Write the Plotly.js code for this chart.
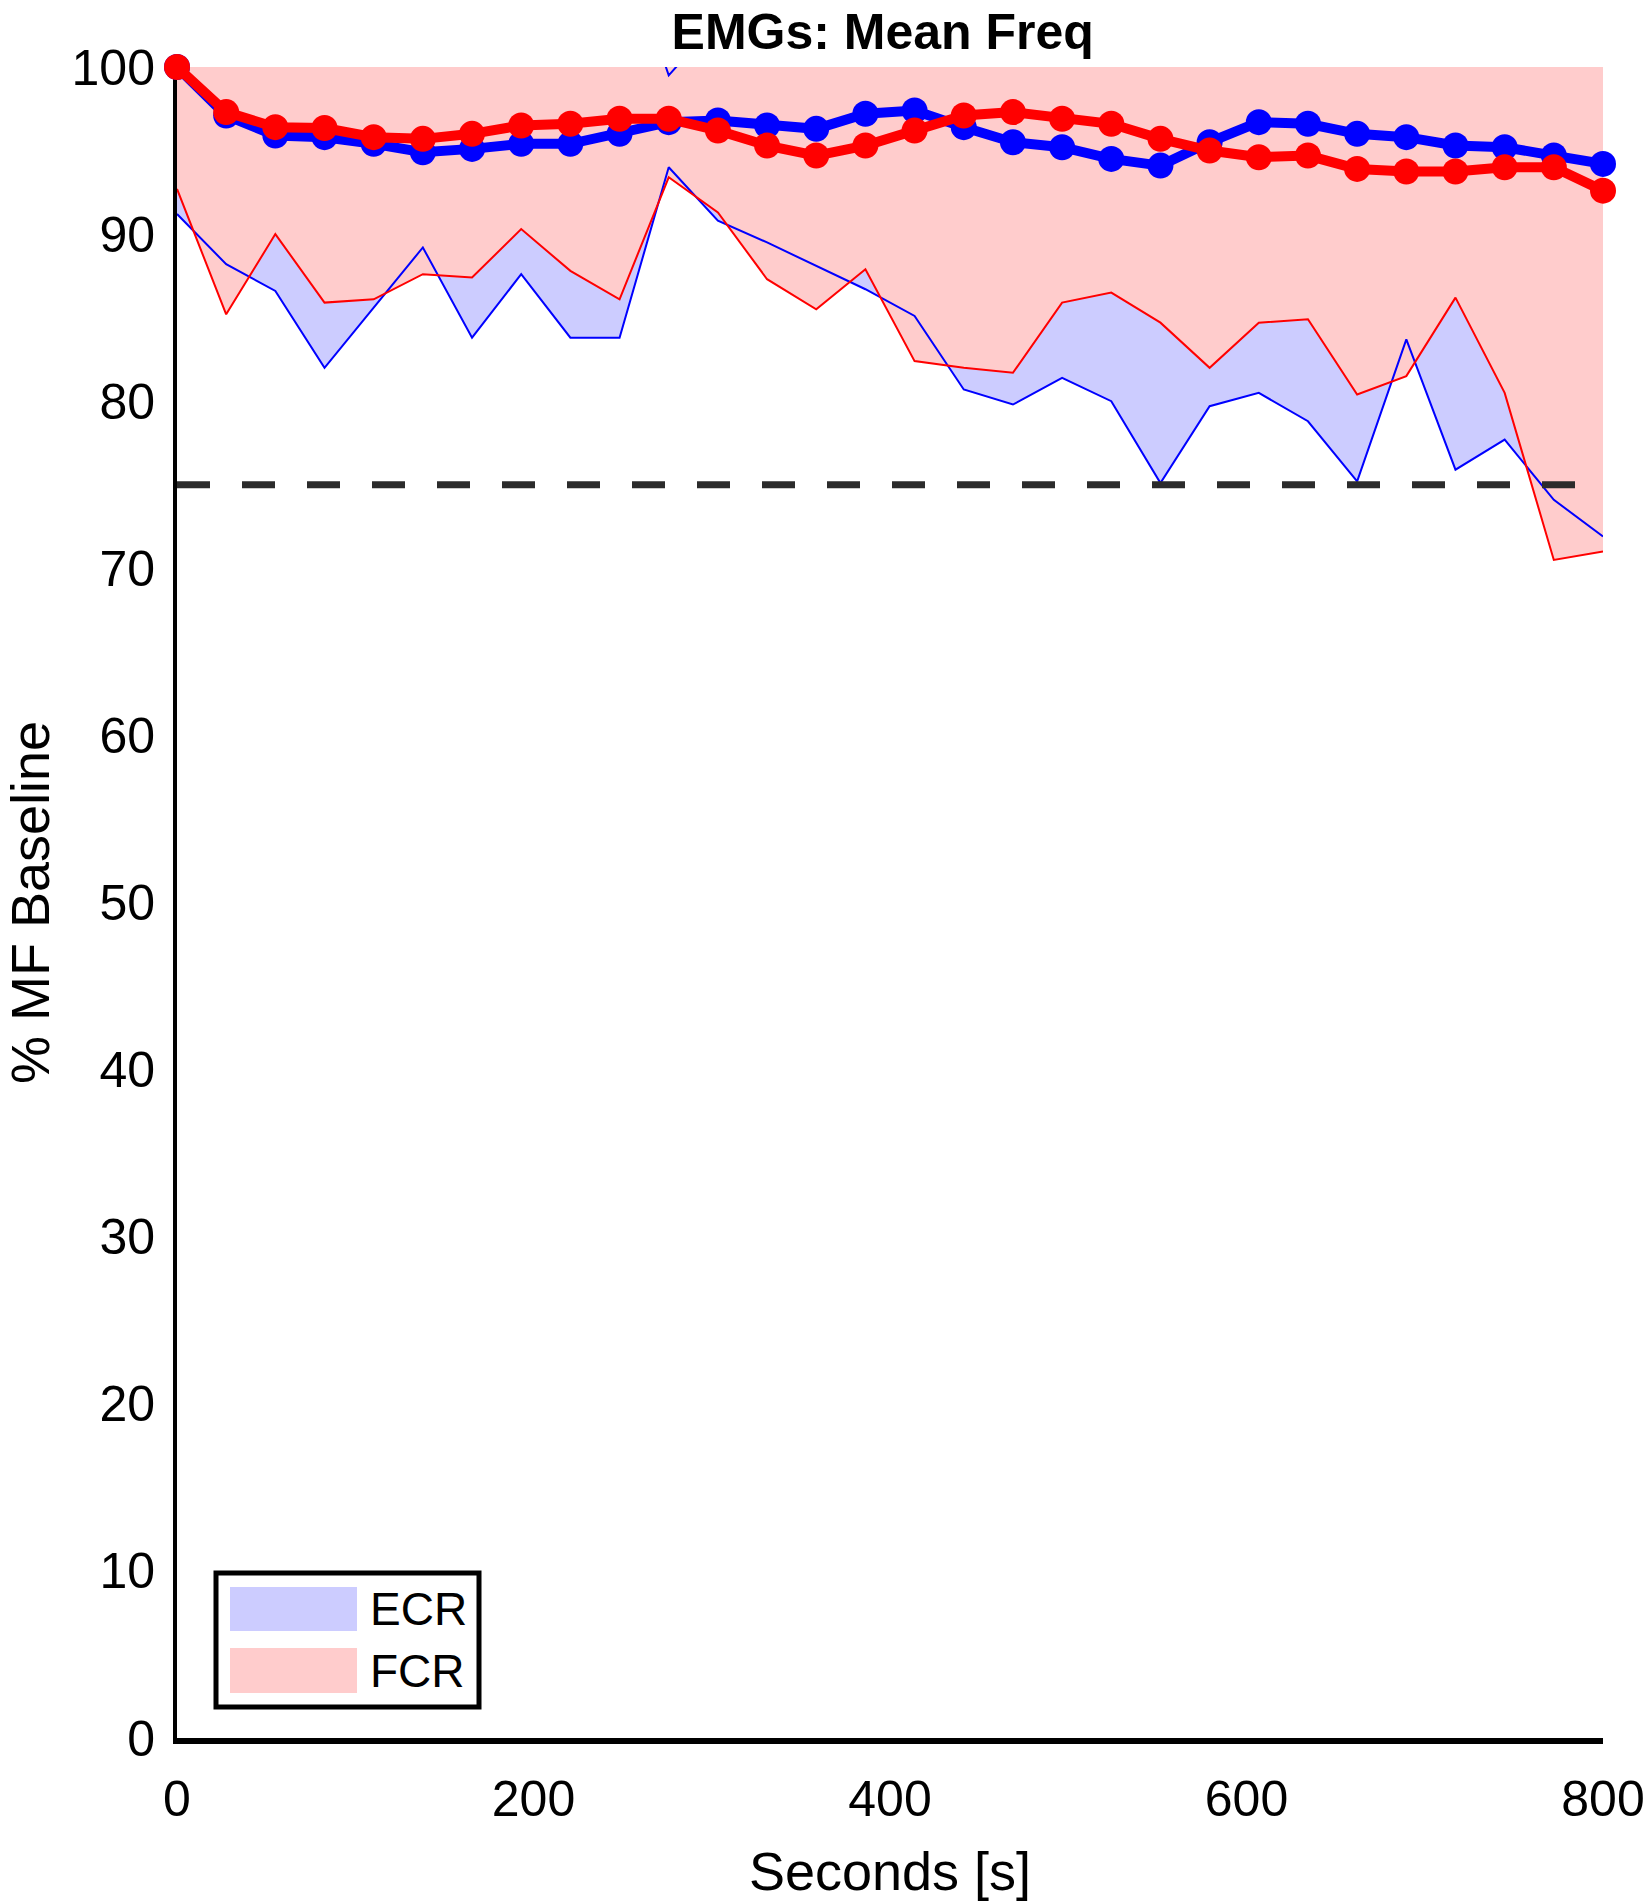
<!DOCTYPE html>
<html>
<head>
<meta charset="utf-8">
<script src="https://cdn.plot.ly/plotly-3.0.1.min.js"></script>
<style>
  html, body { margin: 0; padding: 0; background: #ffffff; }
  #chart { width: 1650px; height: 1904px; }
</style>
</head>
<body>
<div id="chart"></div>
<script>
// time of each sample, seconds
const seconds = [
  0, 27.59, 55.17, 82.76, 110.34, 137.93, 165.52, 193.1, 220.69, 248.28,
  275.86, 303.45, 331.03, 358.62, 386.21, 413.79, 441.38, 468.97, 496.55, 524.14,
  551.72, 579.31, 606.9, 634.48, 662.07, 689.66, 717.24, 744.83, 772.41, 800,
];

// ECR (blue): mean and band edges, % of baseline mean frequency
const ecrMean = [
  100, 97.1, 95.9, 95.8, 95.4, 94.9, 95.1, 95.4, 95.4, 96.0,
  96.7, 96.8, 96.5, 96.3, 97.2, 97.4, 96.4, 95.5, 95.2, 94.5,
  94.1, 95.5, 96.7, 96.6, 96.0, 95.8, 95.3, 95.2, 94.7, 94.2,
];
const ecrLower = [
  91.2, 88.2, 86.6, 82.0, 85.6, 89.2, 83.8, 87.6, 83.8, 83.8,
  94.0, 90.8, 89.5, 88.1, 86.7, 85.1, 80.7, 79.8, 81.4, 80.0,
  75.1, 79.7, 80.5, 78.8, 75.2, 83.7, 75.9, 77.7, 74.1, 71.9,
];
const ecrUpper = [
  108.8, 106.0, 105.2, 109.6, 105.2, 100.6, 106.4, 103.2, 107.0, 108.2,
  99.5, 102.8, 103.5, 104.5, 107.7, 109.7, 112.1, 111.2, 109.0, 109.0,
  113.1, 111.3, 112.9, 114.4, 116.8, 107.9, 114.7, 112.7, 115.3, 116.5,
];

// FCR (red)
const fcrMean = [
  100, 97.3, 96.4, 96.35, 95.8, 95.7, 96.0, 96.5, 96.6, 96.9,
  96.9, 96.2, 95.3, 94.7, 95.3, 96.2, 97.1, 97.3, 96.9, 96.6,
  95.7, 95.0, 94.6, 94.7, 93.9, 93.75, 93.75, 94.0, 94.0, 92.6,
];
const fcrLower = [
  92.7, 85.2, 90.0, 85.9, 86.1, 87.6, 87.4, 90.3, 87.8, 86.1,
  93.4, 91.3, 87.3, 85.5, 87.9, 82.4, 82.0, 81.7, 85.9, 86.5,
  84.7, 82.0, 84.7, 84.9, 80.4, 81.5, 86.2, 80.5, 70.5, 71.0,
];
const fcrUpper = [
  107.3, 109.4, 102.8, 106.8, 105.5, 103.8, 104.6, 102.7, 105.4, 107.7,
  100.4, 101.1, 103.3, 103.9, 102.7, 110.0, 112.2, 112.9, 107.9, 106.7,
  106.7, 108.0, 104.5, 104.5, 107.4, 106.0, 101.3, 107.5, 117.5, 114.2,
];

// fatigue threshold
const thresholdX = [0, 800];
const thresholdY = [75, 75];

const legendNames = ["ECR", "FCR"];
const xTicks = [0, 200, 400, 600, 800];
const yTicks = [0, 10, 20, 30, 40, 50, 60, 70, 80, 90, 100];

const BLUE = "#0000ff";
const RED = "#ff0000";
const BLUE_FILL = "rgb(204, 204, 255)";
const RED_FILL = "rgb(255, 204, 204)";
const FONT = "Arial, 'Liberation Sans', Helvetica, sans-serif";

// plot box in page pixels
const W = 1650, H = 1904;
const M = { l: 177, r: 47, t: 67, b: 166 };
const plotW = W - M.l - M.r;
const plotH = H - M.t - M.b;
const px = (x) => (x - M.l) / plotW;
const py = (y) => (H - M.b - y) / plotH;

function band(lower, upper, color) {
  return {
    type: "scatter",
    mode: "lines",
    x: [...seconds, ...seconds.slice().reverse()],
    y: [...upper, ...lower.slice().reverse()],
    fill: "toself",
    fillcolor: color,
    line: { width: 0 },
    hoverinfo: "skip",
    showlegend: false,
  };
}

function edge(values, color) {
  return {
    type: "scatter",
    mode: "lines",
    x: seconds,
    y: values,
    line: { color, width: 2 },
    hoverinfo: "skip",
    showlegend: false,
  };
}

function meanLine(values, color) {
  return {
    type: "scatter",
    mode: "lines+markers",
    x: seconds,
    y: values,
    line: { color, width: 10 },
    marker: { color, size: 26 },
    cliponaxis: false,
    showlegend: false,
  };
}

function legendBox() {
  const shapes = [
    {
      type: "rect", xref: "paper", yref: "paper",
      x0: px(216), x1: px(479), y0: py(1707), y1: py(1573),
      line: { color: "#000000", width: 5 }, fillcolor: "#ffffff",
    },
  ];
  const annotations = [];
  const rows = [
    { name: legendNames[0], fill: BLUE_FILL, top: 1587, bottom: 1631 },
    { name: legendNames[1], fill: RED_FILL, top: 1648, bottom: 1693 },
  ];
  for (const row of rows) {
    shapes.push({
      type: "rect", xref: "paper", yref: "paper",
      x0: px(230), x1: px(357), y0: py(row.bottom), y1: py(row.top),
      line: { width: 0 }, fillcolor: row.fill,
    });
    annotations.push({
      xref: "paper", yref: "paper",
      x: px(368), y: py((row.top + row.bottom) / 2),
      xanchor: "left", yanchor: "middle",
      text: row.name, showarrow: false,
      font: { family: FONT, size: 46, color: "#000000" },
    });
  }
  return { shapes, annotations };
}

const legend = legendBox();

Plotly.newPlot(
  "chart",
  [
    band(ecrLower, ecrUpper, BLUE_FILL),
    band(fcrLower, fcrUpper, RED_FILL),
    edge(ecrLower, BLUE),
    edge(ecrUpper, BLUE),
    edge(fcrLower, RED),
    edge(fcrUpper, RED),
    {
      type: "scatter",
      mode: "lines",
      x: thresholdX,
      y: thresholdY,
      line: { color: "#2b2b2b", width: 7, dash: "33px,32px" },
      showlegend: false,
    },
    meanLine(ecrMean, BLUE),
    meanLine(fcrMean, RED),
  ],
  {
    width: W,
    height: H,
    margin: M,
    paper_bgcolor: "#ffffff",
    plot_bgcolor: "#ffffff",
    font: { family: FONT, color: "#000000" },
    showlegend: false,
    title: {
      text: "EMGs: Mean Freq",
      font: { family: FONT, size: 50, weight: "bold", color: "#000000" },
      x: 0.535, xanchor: "center",
      y: 1 - 31 / H, yanchor: "middle",
    },
    xaxis: {
      range: [0, 800],
      tickvals: xTicks,
      ticks: "",
      ticklabelstandoff: 12,
      tickfont: { family: FONT, size: 50 },
      showgrid: false,
      zeroline: false,
      showline: true,
      linecolor: "#000000",
      linewidth: 6,
      fixedrange: true,
      title: { text: "Seconds [s]", font: { family: FONT, size: 54 }, standoff: 28 },
    },
    yaxis: {
      range: [0, 100],
      tickvals: yTicks,
      ticks: "",
      ticklabelstandoff: 8,
      tickfont: { family: FONT, size: 50 },
      showgrid: false,
      zeroline: false,
      showline: true,
      linecolor: "#000000",
      linewidth: 4,
      layer: "below traces",
      fixedrange: true,
      title: { text: "% MF Baseline", font: { family: FONT, size: 54 }, standoff: 38 },
    },
    shapes: legend.shapes,
    annotations: legend.annotations,
  },
  { displayModeBar: false, staticPlot: true }
);
</script>
</body>
</html>
